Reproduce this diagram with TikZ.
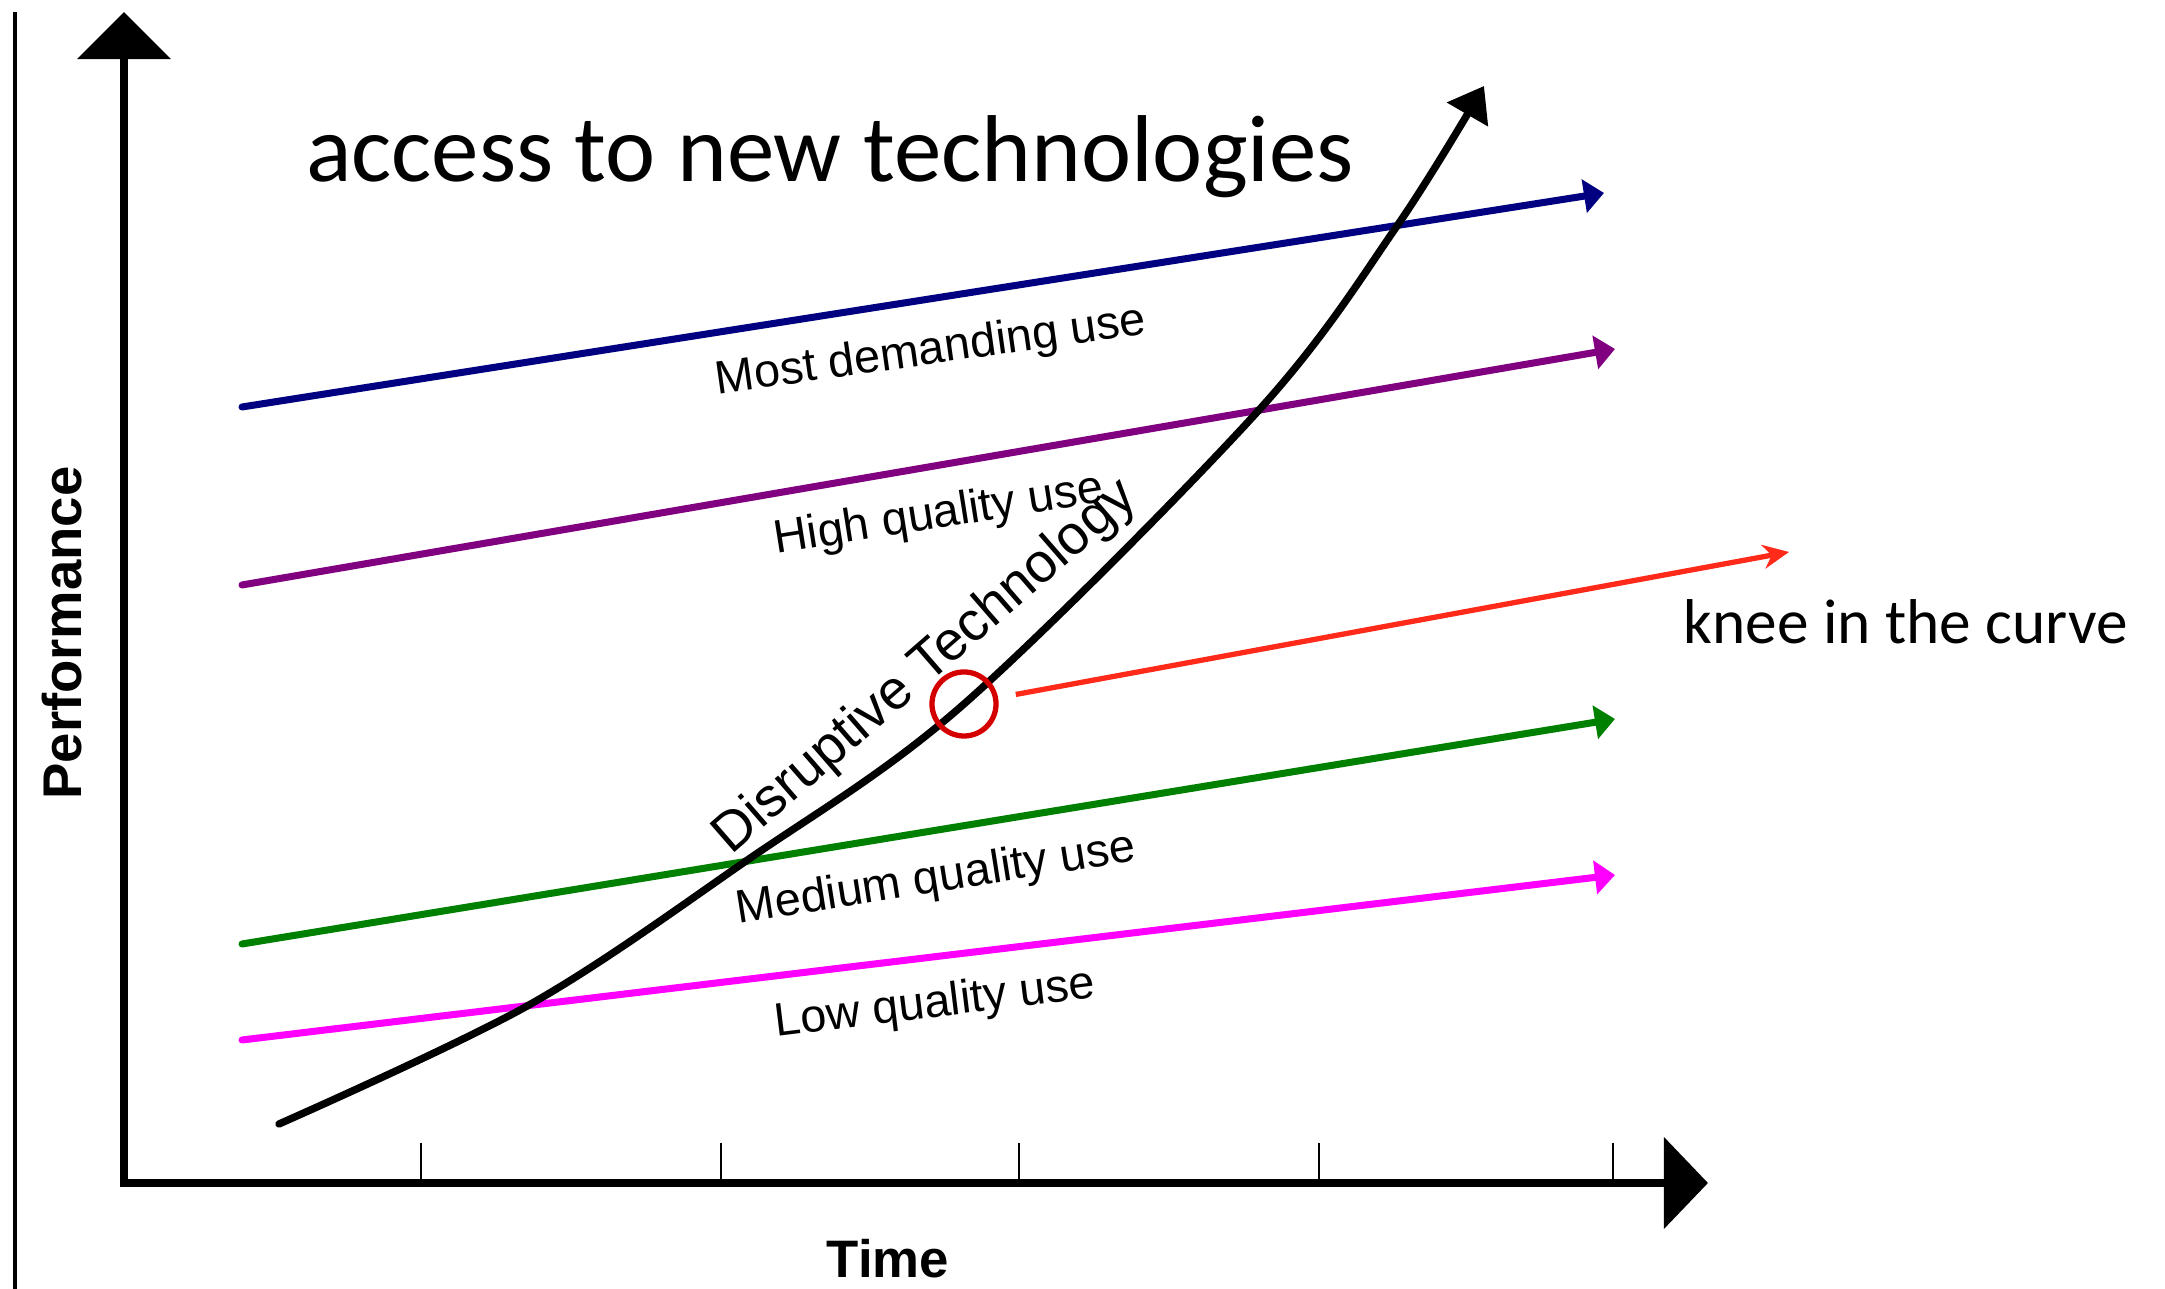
\documentclass[tikz,border=0pt]{standalone}
\usepackage{fontspec}
\setmainfont{Liberation Sans}
\newfontfamily\calibrifont{Carlito}
\usetikzlibrary{arrows.meta}

\definecolor{mostcol}{HTML}{000080}
\definecolor{highcol}{HTML}{800080}
\definecolor{mediumcol}{HTML}{008000}
\definecolor{lowcol}{HTML}{FF00FF}
\definecolor{kneecol}{HTML}{D40000}
\definecolor{pointercol}{HTML}{FF2A1A}

\tikzset{
  axis/.style={line width=2.4pt, line join=miter},
  use/.style={line width=2pt, line cap=round, -{Triangle[width=0.33cm,length=0.2cm]}},
  uselabel/.style={font=\fontsize{13.3}{16}\selectfont, inner sep=0pt},
}

\begin{document}
\begin{tikzpicture}[x=0.01cm, y=-0.01cm]
\useasboundingbox (0,0) rectangle (2165,1289);

\draw[line width=1.4pt] (15,12) -- (15,1289);

\coordinate (origin) at (124,1183);
\coordinate (ytip) at (124,12);
\coordinate (xtip) at (1708,1183);
\draw[axis, {Triangle[width=0.92cm,length=0.47cm]}-{Triangle[width=0.9cm,length=0.44cm]}]
  (ytip) -- (origin) -- (xtip);
\foreach \x in {421,721,1019,1319,1613}
  \draw[line width=0.6pt] (\x,1143) -- (\x,1183);

\node[font=\bfseries\fontsize{15}{18}\selectfont] (time) at (888,1259) {Time};
\node[rotate=90, font=\bfseries\fontsize{15.5}{18}\selectfont] (perf) at (62,633) {Performance};

\node[font=\calibrifont\fontsize{27}{32}\selectfont, anchor=base] (title) at (830,182) {access to new technologies};

\coordinate (most-s) at (242,407);   \coordinate (most-e) at (1604,193);
\coordinate (high-s) at (242,585);   \coordinate (high-e) at (1615,349);
\coordinate (medium-s) at (242,944); \coordinate (medium-e) at (1615,719);
\coordinate (low-s) at (242,1040);   \coordinate (low-e) at (1615,875);

\draw[use, mostcol] (most-s) -- (most-e);
\draw[use, highcol] (high-s) -- (high-e);
\draw[use, mediumcol] (medium-s) -- (medium-e);
\draw[use, lowcol] (low-s) -- (low-e);

\node[uselabel, rotate=8] (most) at (931,352) {Most demanding use};
\node[uselabel, rotate=9] (high) at (939,516) {High quality use};
\node[uselabel, rotate=9] (medium) at (936,880) {Medium quality use};
\node[uselabel, rotate=7] (low) at (935,1005) {Low quality use};

\draw[line width=2.1pt, line cap=round, -{Triangle[width=0.46cm,length=0.33cm]}]
  plot[smooth, tension=0.55] coordinates {(279,1124) (529,1005) (746,861) (964,704) (1259,410) (1397,226) (1484,86)};
\node[font=\fontsize{15.7}{18}\selectfont, rotate=41, inner sep=0pt] (disrupt) at (926,668) {Disruptive Technology};

\node[circle, draw=kneecol, line width=1.5pt, minimum size=0.64cm, inner sep=0pt] (knee) at (964,704) {};
\coordinate (kneetip) at (1789,552);
\draw[pointercol, line width=1.5pt, shorten <=0.18cm, -{Stealth[width=0.24cm,length=0.26cm]}] (knee) -- (kneetip);
\node[font=\calibrifont\fontsize{18}{22}\selectfont, anchor=base west, inner sep=0pt] (kneetext) at (1683,644) {knee in the curve};
\end{tikzpicture}
\end{document}
